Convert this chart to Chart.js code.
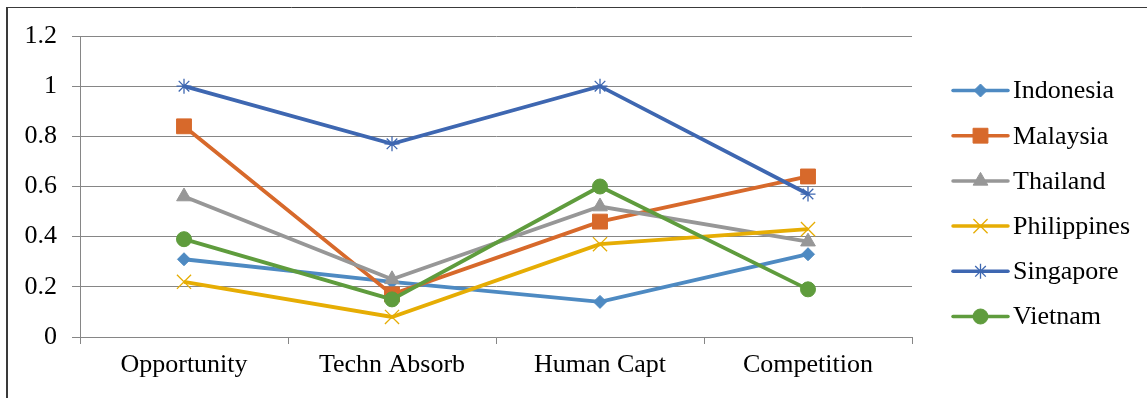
<!DOCTYPE html>
<html>
<head>
<meta charset="utf-8">
<script src="https://cdn.jsdelivr.net/npm/chart.js@4"></script>
<style>
  html, body { margin: 0; padding: 0; background: #fff; }
  #wrap { position: relative; width: 1147px; height: 398px; }
  canvas { display: block; }
</style>
</head>
<body>
<div id="wrap"><canvas id="chart" width="1147" height="398"></canvas></div>
<script>
// Indicator categories along the x axis
const categories = ['Opportunity', 'Techn Absorb', 'Human Capt', 'Competition'];

// Scores per country
const indonesia   = [0.31, 0.22, 0.14, 0.33];
const malaysia    = [0.84, 0.17, 0.46, 0.64];
const thailand    = [0.56, 0.23, 0.52, 0.38];
const philippines = [0.22, 0.08, 0.37, 0.43];
const singapore   = [1.00, 0.77, 1.00, 0.57];
const vietnam     = [0.39, 0.15, 0.60, 0.19];

// Y axis range
const yMin = 0, yMax = 1.2, yStep = 0.2;

const FONT = "'Liberation Serif', 'Times New Roman', serif";

const seriesDefs = [
  { label: 'Indonesia',   data: indonesia,   color: '#4E8AC2', style: 'rectRot',  radius: 6.5,  bw: 1 },
  { label: 'Malaysia',    data: malaysia,    color: '#D7692B', style: 'rect',     radius: 10.5, bw: 1 },
  { label: 'Thailand',    data: thailand,    color: '#979797', style: 'triangle', radius: 8.5,  bw: 1 },
  { label: 'Philippines', data: philippines, color: '#E6AD04', style: 'crossRot', radius: 10,   bw: 1.3 },
  { label: 'Singapore',   data: singapore,   color: '#3E67B1', style: 'star',     radius: 7.5,  bw: 1.3 },
  { label: 'Vietnam',     data: vietnam,     color: '#5F9C3D', style: 'circle',   radius: 7.5,  bw: 1 }
];

const datasets = seriesDefs.map((s, i) => ({
  label: s.label,
  data: s.data,
  borderColor: s.color,
  backgroundColor: s.color,
  borderWidth: 3.8,
  pointStyle: s.style,
  pointRadius: s.radius,
  pointHoverRadius: s.radius,
  pointBorderWidth: s.bw,
  pointBackgroundColor: s.color,
  pointBorderColor: s.color,
  tension: 0,
  fill: false,
  order: seriesDefs.length - 1 - i
}));

// Outer frame and the right-hand legend (line + marker + name)
const framePlugin = {
  id: 'frameAndLegend',
  beforeDraw(chart) {
    const ctx = chart.ctx;
    ctx.save();
    ctx.fillStyle = '#fff';
    ctx.fillRect(0, 0, chart.width, chart.height);
    ctx.strokeStyle = '#3a3a3a';
    ctx.lineWidth = 1;
    ctx.beginPath();
    ctx.moveTo(6.5, chart.height);
    ctx.lineTo(6.5, 7.5);
    ctx.lineTo(chart.width, 7.5);
    ctx.stroke();
    ctx.lineWidth = 2;
    ctx.beginPath();
    ctx.moveTo(7, chart.height);
    ctx.lineTo(7, 7);
    ctx.stroke();
    ctx.restore();
  },
  afterDraw(chart) {
    const ctx = chart.ctx;
    const x0 = 953, x1 = 1008, tx = 1013;
    const top = 90.5, gap = 45.2;
    ctx.save();
    chart.data.datasets.forEach((ds, i) => {
      const y = top + i * gap;
      ctx.strokeStyle = ds.borderColor;
      ctx.lineWidth = 3.5;
      ctx.lineCap = 'round';
      ctx.beginPath();
      ctx.moveTo(x0, y);
      ctx.lineTo(x1, y);
      ctx.stroke();
      ctx.lineCap = 'butt';
      ctx.fillStyle = ds.pointBackgroundColor;
      ctx.strokeStyle = ds.pointBorderColor;
      ctx.lineWidth = ds.pointBorderWidth;
      Chart.helpers.drawPoint(ctx, {
        pointStyle: ds.pointStyle,
        radius: ds.pointRadius,
        borderWidth: ds.pointBorderWidth,
        rotation: 0
      }, (x0 + x1) / 2, y);
      ctx.fillStyle = '#000';
      ctx.font = '26px ' + FONT;
      ctx.textAlign = 'left';
      ctx.textBaseline = 'middle';
      ctx.fillText(ds.label, tx, y + 1);
    });
    ctx.restore();
  }
};

new Chart(document.getElementById('chart'), {
  type: 'line',
  data: { labels: categories, datasets },
  options: {
    responsive: false,
    animation: false,
    events: [],
    layout: { padding: { top: 36, right: 235, left: 0, bottom: 0 } },
    plugins: { legend: { display: false }, tooltip: { enabled: false } },
    scales: {
      x: {
        type: 'category',
        offset: true,
        grid: {
          offset: true,
          drawOnChartArea: false,
          drawTicks: true,
          tickLength: 7,
          color: '#868686',
          lineWidth: 1
        },
        border: { display: true, color: '#868686', width: 1 },
        ticks: {
          color: '#000',
          font: { family: FONT, size: 26 },
          padding: 6,
          maxRotation: 0,
          autoSkip: false
        },
        afterFit(scale) { scale.height = 61; }
      },
      y: {
        min: yMin,
        max: yMax,
        grid: {
          color: '#868686',
          lineWidth: 1,
          drawTicks: true,
          tickLength: 8
        },
        border: { display: true, color: '#868686', width: 1 },
        ticks: {
          stepSize: yStep,
          color: '#000',
          font: { family: FONT, size: 26 },
          padding: 15,
          callback: v => String(Math.round(v * 10) / 10)
        },
        afterFit(scale) { scale.width = 80; }
      }
    }
  },
  plugins: [framePlugin]
});
</script>
</body>
</html>
